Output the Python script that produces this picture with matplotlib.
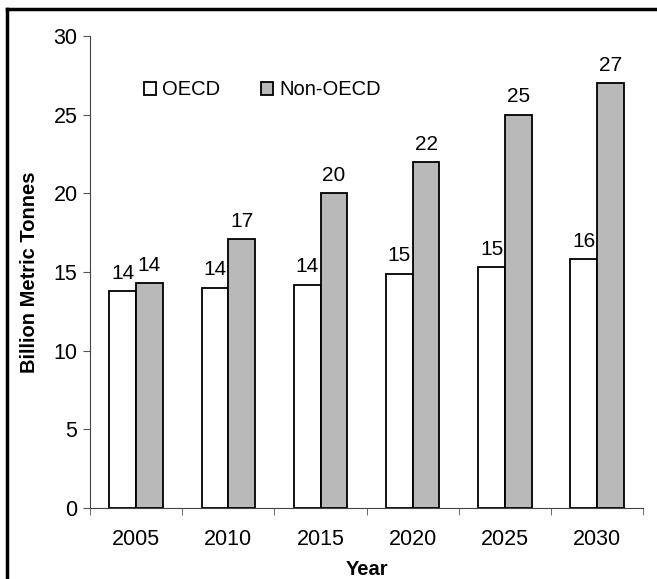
import matplotlib
matplotlib.use("Agg")
import matplotlib.pyplot as plt
from matplotlib.lines import Line2D
import numpy as np

plt.rcParams['font.family'] = ['Liberation Sans', 'DejaVu Sans']

# data
years = ["2005", "2010", "2015", "2020", "2025", "2030"]
oecd = [13.8, 14.0, 14.2, 14.9, 15.3, 15.8]
non_oecd = [14.3, 17.1, 20.0, 22.0, 25.0, 27.0]

fig = plt.figure(figsize=(6.57, 5.79), dpi=100)
ax = fig.add_axes([0.137, 0.1226, 0.842, 0.8152])

x = np.arange(len(years))
w = 0.29
b1 = ax.bar(x - w / 2, oecd, w, color="white", edgecolor="black", linewidth=1.3, label="OECD")
b2 = ax.bar(x + w / 2, non_oecd, w, color="#b9b9b9", edgecolor="black", linewidth=1.3, label="Non-OECD")

for bars, vals in ((b1, oecd), (b2, non_oecd)):
    for r, v in zip(bars, vals):
        ax.annotate("%d" % round(v), (r.get_x() + r.get_width() / 2, v),
                    xytext=(0, 6), textcoords="offset points",
                    ha="center", va="bottom", fontsize=15)

ax.set_xlim(-0.5, len(years) - 0.5)
ax.set_ylim(0, 30)
ax.set_yticks(range(0, 31, 5))
ax.set_xticks(x)
ax.set_xticklabels(years)
ax.set_xticks(np.arange(-0.5, len(years), 1), minor=True)
ax.tick_params(axis="x", which="major", length=0, labelsize=15.5, pad=15)
ax.tick_params(axis="x", which="minor", length=5, direction="out", color="#555555")
ax.tick_params(axis="y", length=5, direction="out", labelsize=15.5, color="#555555", pad=4)
ax.spines["top"].set_visible(False)
ax.spines["right"].set_visible(False)
ax.spines["left"].set_color("#444444")
ax.spines["bottom"].set_color("#444444")

ax.set_ylabel("Billion Metric Tonnes", fontsize=14.5, fontweight="bold", labelpad=10)
ax.set_xlabel("Year", fontsize=14.5, fontweight="bold", labelpad=7)

ax.legend(ncol=2, frameon=False, loc="center left", bbox_to_anchor=(0.08, 0.886),
          fontsize=14.5, handlelength=0.6, handleheight=0.6, handletextpad=0.3,
          columnspacing=2.0, borderpad=0)

# outer frame (top and left visible)
fig.add_artist(Line2D([7 / 657, 1.0], [1 - 9 / 579, 1 - 9 / 579], color="black", linewidth=2.5))
fig.add_artist(Line2D([7 / 657, 7 / 657], [0, 1 - 9 / 579], color="black", linewidth=2.5))

fig.savefig("out.png", dpi=100)
